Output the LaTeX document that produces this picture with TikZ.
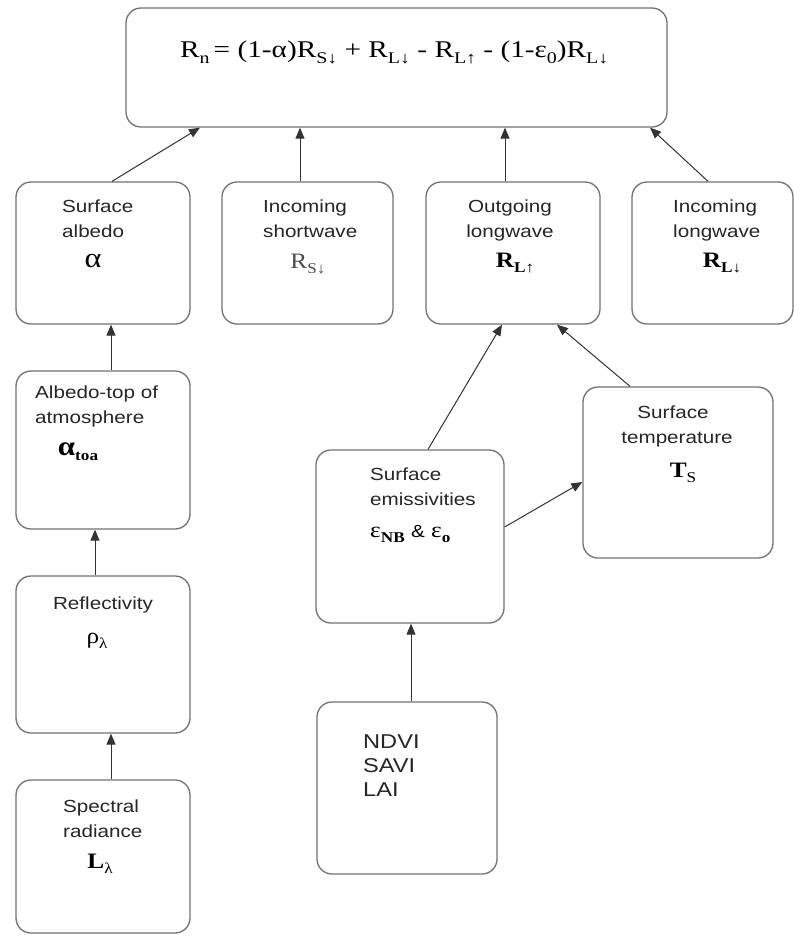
\documentclass[tikz,border=0pt]{standalone}
\usepackage{fontspec}
\usetikzlibrary{arrows.meta,calc}
\newfontfamily\lab[FakeStretch=1.18]{Liberation Sans}
\newfontfamily\sym[FakeStretch=1.15]{Liberation Serif}
\newfontfamily\eqf[FakeStretch=1.22]{Liberation Serif}
\newcommand\lsub[1]{\raisebox{-0.25em}{\scalebox{0.68}{#1}}}
\begin{document}
\begin{tikzpicture}[x=1pt,y=-1pt,
  box/.style={draw=black!55, line width=1.3pt, rounded corners=15pt, inner sep=0pt},
  txt/.style={font=\lab\fontsize{17.5}{21}\selectfont, text=black!85, inner sep=0pt},
  big/.style={font=\lab\fontsize{20}{24}\selectfont, text=black!85, inner sep=0pt, anchor=base west},
  sy/.style={font=\sym\fontsize{22}{26}\selectfont, inner sep=0pt, anchor=base},
  arr/.style={draw=black!80, line width=1pt, -{Triangle[length=11pt,width=9pt]}}]
\useasboundingbox (0,0) rectangle (794,936);
\fill[white] (0,0) rectangle (794,936);
% boxes
\node[box, minimum width=541pt, minimum height=119pt] (top) at (396.5,67.5) {};
\node[box, minimum width=174pt, minimum height=142pt] (alb) at (103,253) {};
\node[box, minimum width=171pt, minimum height=142pt] (sw) at (307.5,253) {};
\node[box, minimum width=174pt, minimum height=142pt] (olw) at (513,253) {};
\node[box, minimum width=161pt, minimum height=142pt] (ilw) at (712.5,253) {};
\node[box, minimum width=174pt, minimum height=158pt] (toa) at (103,450) {};
\node[box, minimum width=174pt, minimum height=157pt] (refl) at (103,654.5) {};
\node[box, minimum width=174pt, minimum height=153pt] (spec) at (103,856.5) {};
\node[box, minimum width=188pt, minimum height=173pt] (emis) at (410,536.5) {};
\node[box, minimum width=190pt, minimum height=171pt] (temp) at (678,472.5) {};
\node[box, minimum width=180pt, minimum height=172pt] (ndvi) at (407,788) {};
% formula
\node[font=\eqf\fontsize{24}{28}\selectfont, inner sep=0pt, anchor=base west] (eq) at (180,58)
  {R\lsub{n}\,= (1-α)R\lsub{S↓} + R\lsub{L↓} - R\lsub{L↑} - (1-ε\lsub{0})R\lsub{L↓}};
% texts
\node[txt, anchor=base west] (t1a) at (62,212) {Surface};
\node[txt, anchor=base west] (t1b) at (62,237) {albedo};
\node[sy, font=\sym\fontsize{28}{30}\selectfont] (s1) at (93,267) {α};
\node[txt, anchor=base west] (t2a) at (263,212) {Incoming};
\node[txt, anchor=base west] (t2b) at (263,237) {shortwave};
\node[sy, text=black!70] (s2) at (308,268) {R\lsub{S↓}};
\node[txt, anchor=base] (t3a) at (510,212) {Outgoing};
\node[txt, anchor=base] (t3b) at (510,237) {longwave};
\node[sy] (s3) at (515,267) {\textbf{R\lsub{L↑}}};
\node[txt, anchor=base west] (t4a) at (673,212) {Incoming};
\node[txt, anchor=base west] (t4b) at (673,237) {longwave};
\node[sy] (s4) at (722,267) {\textbf{R\lsub{L↓}}};
\node[txt, anchor=base west] (t5a) at (35,398) {Albedo-top of};
\node[txt, anchor=base west] (t5b) at (35,423) {atmosphere};
\node[sy] (s5) at (78,455) {{\fontsize{27}{30}\selectfont\textbf{α}}\lsub{\textbf{toa}}};
\node[txt, anchor=base] (t6a) at (103,609) {Reflectivity};
\node[sy] (s6) at (97,643) {ρ\lsub{λ}};
\node[txt, anchor=base west] (t7a) at (63,812) {Spectral};
\node[txt, anchor=base west] (t7b) at (63,837) {radiance};
\node[sy] (s7) at (100,868) {\textbf{L}\lsub{λ}};
\node[txt, anchor=base west] (t8a) at (370,480) {Surface};
\node[txt, anchor=base west] (t8b) at (370,505) {emissivities};
\node[sy, anchor=base west] (s8) at (370,537) {ε\lsub{\textbf{NB}} {\lab\fontsize{17.5}{21}\selectfont\&} ε\lsub{\textbf{o}}};
\node[txt, anchor=base] (t9a) at (673,418) {Surface};
\node[txt, anchor=base] (t9b) at (677,443) {temperature};
\node[sy] (s9) at (683,477) {\textbf{T}\lsub{S}};
\node[big] (n1) at (363,748) {NDVI};
\node[big] (n2) at (363,772) {SAVI};
\node[big] (n3) at (363,796) {LAI};
% connectors
\draw[arr] ([xshift=9pt]alb.north) -- ([xshift=-196.5pt]top.south);
\draw[arr] ([xshift=-7.5pt]sw.north) -- ([xshift=-96.5pt]top.south);
\draw[arr] ([xshift=-8pt]olw.north) -- ([xshift=108.5pt]top.south);
\draw[arr] ([xshift=-4.5pt]ilw.north) -- ([xshift=253.5pt]top.south);
\draw[arr] ([xshift=8pt]toa.north) -- ([xshift=8pt]alb.south);
\draw[arr] ([xshift=-8pt]refl.north) -- ([xshift=-8pt]toa.south);
\draw[arr] ([xshift=8pt]spec.north) -- ([xshift=8pt]refl.south);
\draw[arr] ([xshift=4pt]ndvi.north) -- ([xshift=1pt]emis.south);
\draw[arr] ([yshift=9.5pt]emis.east) -- ([yshift=-9.5pt]temp.west);
\draw[arr] ([xshift=18pt]emis.north) -- ([xshift=-11pt]olw.south);
\draw[arr] ([xshift=-48pt]temp.north) -- ([xshift=44pt]olw.south);
\end{tikzpicture}
\end{document}
